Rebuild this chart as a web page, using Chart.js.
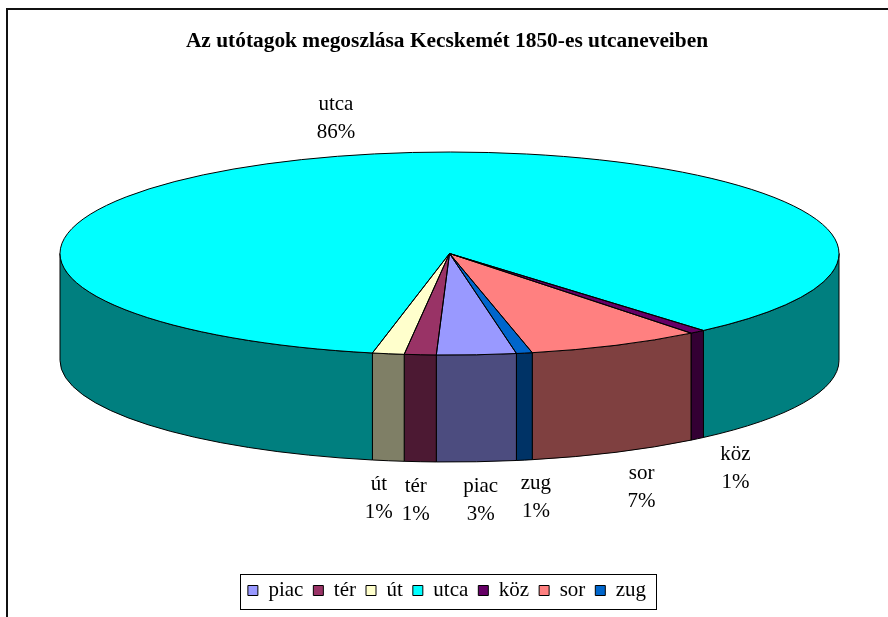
<!DOCTYPE html>
<html lang="hu">
<head>
<meta charset="UTF-8" />
<title>Az utótagok megoszlása Kecskemét 1850-es utcaneveiben</title>
<script src="https://cdn.jsdelivr.net/npm/chart.js"></script>
<style>
  html, body { margin: 0; padding: 0; background: #fff; }
</style>
</head>
<body>
<canvas id="pie" width="888" height="617"></canvas>

<script>
  // utótagok, in legend order, and the number of street names for each
  const labels = ["piac", "tér", "út", "utca", "köz", "sor", "zug"];
  const counts = [5, 2, 2, 130, 1, 11, 1];
  const topColors = ["#9999FF", "#993366", "#FFFFCC", "#00FFFF", "#660066", "#FF8080", "#0066CC"];
  const sideColors = ["#4C4C7F", "#4C1933", "#7F7F66", "#007F7F", "#330033", "#7F4040", "#003366"];
  const chartTitle = "Az utótagok megoszlása Kecskemét 1850-es utcaneveiben";

  const total = counts.reduce((a, b) => a + b, 0);
  const FONT = "Liberation Serif";

  // where the flattened pie sits on the page
  const PIE = { cx: 449.5, cy: 253.5, rx: 389.5, ry: 101.5, depth: 107 };

  // parts of an angle range that lie on the front half (visible side wall)
  function frontParts(s, e) {
    const out = [];
    for (let k = -1; k <= 2; k++) {
      const a = Math.max(s, 2 * Math.PI * k);
      const b = Math.min(e, 2 * Math.PI * k + Math.PI);
      if (b > a) out.push([a, b]);
    }
    return out;
  }

  const pie3d = {
    id: "pie3d",
    beforeDraw(chart) {
      const ctx = chart.ctx;
      ctx.save();
      ctx.fillStyle = "#fff";
      ctx.fillRect(0, 0, chart.width, chart.height);
      ctx.strokeStyle = "#111";
      ctx.lineWidth = 2;
      ctx.beginPath();
      ctx.moveTo(7, chart.height);
      ctx.lineTo(7, 9);
      ctx.lineTo(chart.width, 9);
      ctx.stroke();
      ctx.restore();
    },
    beforeDatasetsDraw(chart) {
      const ctx = chart.ctx;
      const arcs = chart.getDatasetMeta(0).data;
      const { cx, cy, rx, ry, depth } = PIE;

      // side walls first
      ctx.save();
      ctx.lineWidth = 1;
      ctx.strokeStyle = "#000";
      arcs.forEach((arc, i) => {
        frontParts(arc.startAngle, arc.endAngle).forEach(([a, b]) => {
          ctx.beginPath();
          ctx.ellipse(cx, cy, rx, ry, 0, a, b);
          ctx.ellipse(cx, cy + depth, rx, ry, 0, b, a, true);
          ctx.closePath();
          ctx.fillStyle = sideColors[i];
          ctx.fill();
          ctx.stroke();
        });
      });
      ctx.restore();

      // squash the library's round pie into the top ellipse
      const a0 = arcs[0];
      ctx.save();
      ctx.translate(cx, cy);
      ctx.scale(rx / a0.outerRadius, ry / a0.outerRadius);
      ctx.translate(-a0.x, -a0.y);
    },
    afterDatasetsDraw(chart) {
      const ctx = chart.ctx;
      ctx.restore();
      const arcs = chart.getDatasetMeta(0).data;
      const { cx, cy, rx, ry, depth } = PIE;

      // slice outlines on the top face
      ctx.save();
      ctx.lineWidth = 1;
      ctx.strokeStyle = "#000";
      arcs.forEach(arc => {
        ctx.beginPath();
        ctx.moveTo(cx, cy);
        ctx.ellipse(cx, cy, rx, ry, 0, arc.startAngle, arc.endAngle);
        ctx.closePath();
        ctx.stroke();
      });

      // data labels: name + percent
      ctx.fillStyle = "#000";
      ctx.font = "21px '" + FONT + "'";
      ctx.textAlign = "center";
      ctx.textBaseline = "middle";
      arcs.forEach((arc, i) => {
        const mid = (arc.startAngle + arc.endAngle) / 2;
        const s = Math.sin(mid);
        const lx = cx + (rx + 60) * Math.cos(mid);
        const ly = cy + (ry + 38.5) * s + (s > 0 ? depth : 0);
        const pct = Math.round(counts[i] / total * 100) + "%";
        ctx.fillText(labels[i], lx, ly - 14);
        ctx.fillText(pct, lx, ly + 14);
      });
      ctx.restore();
    },
    afterDraw(chart) {
      // frame round the legend
      const boxes = chart.legend.legendHitBoxes;
      if (!boxes || !boxes.length) return;
      const left = Math.min(...boxes.map(b => b.left));
      const right = Math.max(...boxes.map(b => b.left + b.width));
      const mid = boxes[0].top + boxes[0].height / 2;
      const ctx = chart.ctx;
      ctx.save();
      ctx.strokeStyle = "#000";
      ctx.lineWidth = 1;
      const x0 = Math.round(left - 8) + 0.5, x1 = Math.round(right + 10) + 0.5;
      const y0 = Math.round(mid - 17) + 0.5, y1 = Math.round(mid + 18) + 0.5;
      ctx.strokeRect(x0, y0, x1 - x0, y1 - y0);
      ctx.restore();
    }
  };

  const baseLabels = Chart.overrides.doughnut.plugins.legend.labels.generateLabels;

  new Chart(document.getElementById("pie"), {
    type: "pie",
    data: {
      labels: labels,
      datasets: [{
        data: counts,
        backgroundColor: topColors,
        borderWidth: 0,
        clip: false
      }]
    },
    options: {
      responsive: false,
      animation: false,
      rotation: 170.1,
      layout: { padding: { left: 6, right: 0, top: 0, bottom: 6 } },
      plugins: {
        title: {
          display: true,
          text: chartTitle,
          color: "#000",
          font: { family: FONT, size: 21.4, weight: "bold" },
          padding: { top: 29, bottom: 10 }
        },
        legend: {
          position: "bottom",
          labels: {
            color: "#000",
            font: { family: FONT, size: 21 },
            boxWidth: 10,
            boxHeight: 10,
            padding: 10,
            generateLabels(chart) {
              return baseLabels(chart).map(l => Object.assign(l, { strokeStyle: "#000", lineWidth: 1 }));
            }
          }
        },
        tooltip: { enabled: false }
      },
      events: []
    },
    plugins: [pie3d]
  });
</script>
</body>
</html>
